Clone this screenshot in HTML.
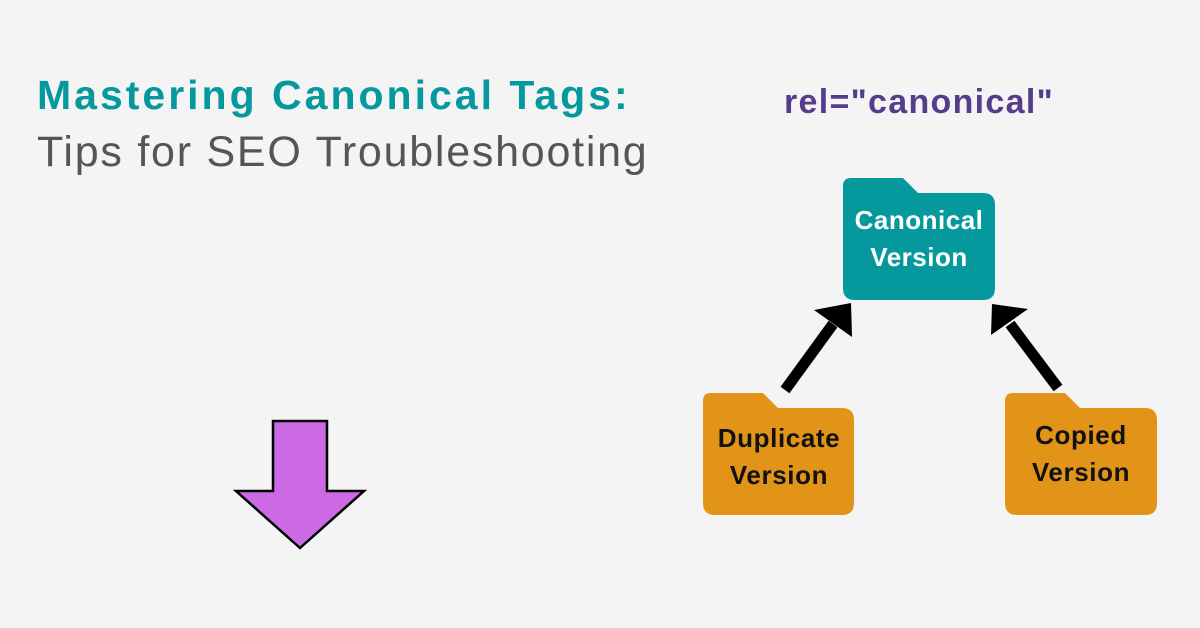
<!DOCTYPE html>
<html><head><meta charset="utf-8"><style>
html,body{margin:0;padding:0;}
body{width:1200px;height:628px;background:#f4f4f4;position:relative;overflow:hidden;font-family:"Liberation Sans",sans-serif;}
.t{position:absolute;white-space:nowrap;}
</style></head><body>
<div class="t" style="left:37px;top:72px;font-size:41px;font-weight:bold;color:#05999e;letter-spacing:3px;">Mastering Canonical Tags:</div>
<div class="t" style="left:37px;top:128px;font-size:43px;color:#555;letter-spacing:1.75px;">Tips for SEO Troubleshooting</div>
<div class="t" style="left:784px;top:83px;font-size:34px;font-weight:bold;color:#553c8d;letter-spacing:1.3px;">rel="canonical"</div>
<svg width="1200" height="628" style="position:absolute;left:0;top:0" font-family="Liberation Sans, sans-serif" font-weight="bold" text-anchor="middle">
  <path d="M851,178 H903 L918,193 H983 Q995,193 995,205 V288 Q995,300 983,300 H855 Q843,300 843,288 V186 Q843,178 851,178 Z" fill="#05999e"/>
  <text x="919" y="229" font-size="26" letter-spacing="0.5" fill="#fff">Canonical</text>
  <text x="919" y="266" font-size="26" letter-spacing="0.5" fill="#fff">Version</text>
  <path d="M711,393 H763 L778,408 H842 Q854,408 854,420 V503 Q854,515 842,515 H715 Q703,515 703,503 V401 Q703,393 711,393 Z" fill="#e29418"/>
  <text x="779" y="447" font-size="26" letter-spacing="0.6" fill="#111">Duplicate</text>
  <text x="779" y="484" font-size="26" letter-spacing="0.6" fill="#111">Version</text>
  <path d="M1013,393 H1065 L1080,408 H1145 Q1157,408 1157,420 V503 Q1157,515 1145,515 H1017 Q1005,515 1005,503 V401 Q1005,393 1013,393 Z" fill="#e29418"/>
  <text x="1081" y="444" font-size="26" letter-spacing="0.6" fill="#111">Copied</text>
  <text x="1081" y="481" font-size="26" letter-spacing="0.6" fill="#111">Version</text>
  <line x1="785" y1="390" x2="833" y2="324" stroke="#000" stroke-width="11"/>
  <polygon points="851,303 852,337 814,310" fill="#000"/>
  <line x1="1058" y1="388" x2="1010" y2="324" stroke="#000" stroke-width="11"/>
  <polygon points="992,304 1028,309 991,335" fill="#000"/>
  <polygon points="273,421 327,421 327,491 364,491 300,548 236,491 273,491" fill="#cc6ae6" stroke="#000" stroke-width="2.5" stroke-linejoin="miter"/>
</svg>
</body></html>
